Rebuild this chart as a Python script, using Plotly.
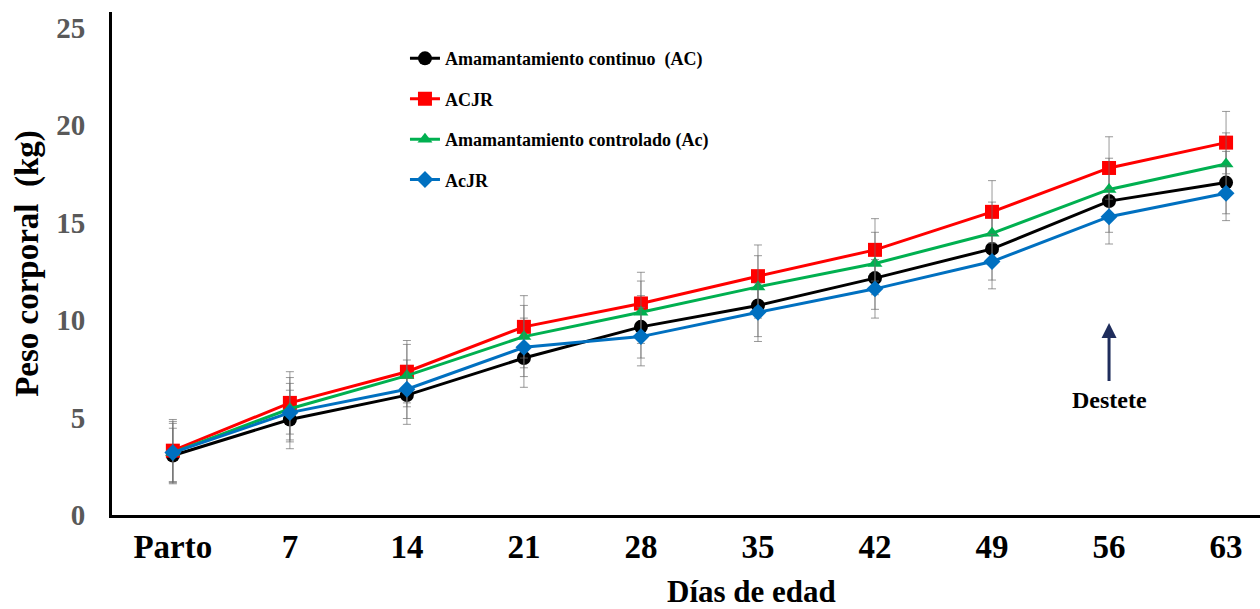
import plotly.graph_objects as go

categories = ["Parto", "7", "14", "21", "28", "35", "42", "49", "56", "63"]
ac = [3.05, 4.9, 6.15, 8.05, 9.65, 10.75, 12.15, 13.65, 16.1, 17.05]
acjr = [3.3, 5.75, 7.35, 9.65, 10.85, 12.25, 13.6, 15.55, 17.8, 19.1]
ac_ctrl = [3.2, 5.45, 7.15, 9.15, 10.4, 11.7, 12.9, 14.45, 16.7, 18.0]
acjr_ctrl = [3.2, 5.25, 6.45, 8.6, 9.15, 10.4, 11.6, 13.0, 15.3, 16.5]
err_ac = [1.4, 1.5, 1.5, 1.5, 1.6, 1.6, 1.6, 1.6, 1.6, 1.6]
err_acjr = [1.6, 1.6, 1.6, 1.6, 1.6, 1.6, 1.6, 1.6, 1.6, 1.6]
err_ac_ctrl = [1.6, 1.6, 1.6, 1.6, 1.6, 1.6, 1.6, 1.6, 1.6, 1.6]
err_acjr_ctrl = [1.5, 1.5, 1.5, 1.5, 1.5, 1.5, 1.5, 1.4, 1.4, 1.4]

names = ["Amamantamiento continuo  (AC)", "ACJR", "Amamantamiento controlado (Ac)", "AcJR"]
colors = ["#000000", "#FF0000", "#00B050", "#0070C0"]
symbols = ["circle", "square", "triangle-up", "diamond"]
sizes = [14, 14, 13, 13]
series = [ac, acjr, ac_ctrl, acjr_ctrl]
errs = [err_ac, err_acjr, err_ac_ctrl, err_acjr_ctrl]

weaning_idx = categories.index("56")

FONT = "Liberation Serif"

fig = go.Figure()
for i in range(4):
    fig.add_trace(go.Scatter(
        x=categories, y=series[i], name="<b>" + names[i] + "</b>", mode="lines+markers",
        line=dict(color=colors[i], width=3),
        marker=dict(symbol=symbols[i], size=sizes[i], color=colors[i]),
        error_y=dict(type="data", array=errs[i], visible=True,
                     color="rgba(110,110,110,0.7)", thickness=1, width=4),
        legendgroup=str(i),
    ))

fig.add_annotation(x=weaning_idx, y=9.85, ax=weaning_idx, ay=6.8, xref="x", yref="y",
                   axref="x", ayref="y", text="", showarrow=True, arrowhead=2,
                   arrowsize=1, arrowwidth=3, arrowcolor="#1F2D5C")
fig.add_annotation(x=weaning_idx, y=5.9, xref="x", yref="y", text="<b>Destete</b>",
                   showarrow=False, font=dict(family=FONT, size=24, color="black"))
fig.add_annotation(x=(751 - 112) / 1148, y=-(591 - 515) / 503, xref="paper", yref="paper",
                   text="<b>Días de edad</b>", showarrow=False, yanchor="middle",
                   font=dict(family=FONT, size=31, color="black"))

fig.update_layout(
    width=1260, height=609,
    margin=dict(l=112, r=0, t=12, b=94),
    plot_bgcolor="white", paper_bgcolor="white",
    font=dict(family=FONT, color="black"),
    showlegend=True,
    legend=dict(x=0.2552, y=0.944, xanchor="left", yanchor="top",
                font=dict(family=FONT, size=18, color="black"),
                tracegroupgap=14, bgcolor="rgba(0,0,0,0)", itemwidth=30),
    xaxis=dict(type="category", range=[-0.52, 9.29], showline=True, linecolor="black",
               linewidth=3, showgrid=False, ticks="", ticklen=0, automargin=False,
               tickfont=dict(family=FONT, size=33, color="black", weight="bold")),
    yaxis=dict(range=[0, 25.8], tickvals=[0, 5, 10, 15, 20, 25], showline=True,
               linecolor="black", linewidth=3, showgrid=False, zeroline=False,
               ticks="", ticklabelstandoff=18, automargin=False,
               tickfont=dict(family=FONT, size=29, color="#595959", weight="bold"),
               title=dict(text="<b>Peso corporal  (kg)</b>", standoff=8,
                          font=dict(family=FONT, size=33, color="black"))),
)

fig.write_html("out.html", config={"displayModeBar": False},
               post_script="document.body.style.margin='0';document.body.style.overflow='hidden';")
